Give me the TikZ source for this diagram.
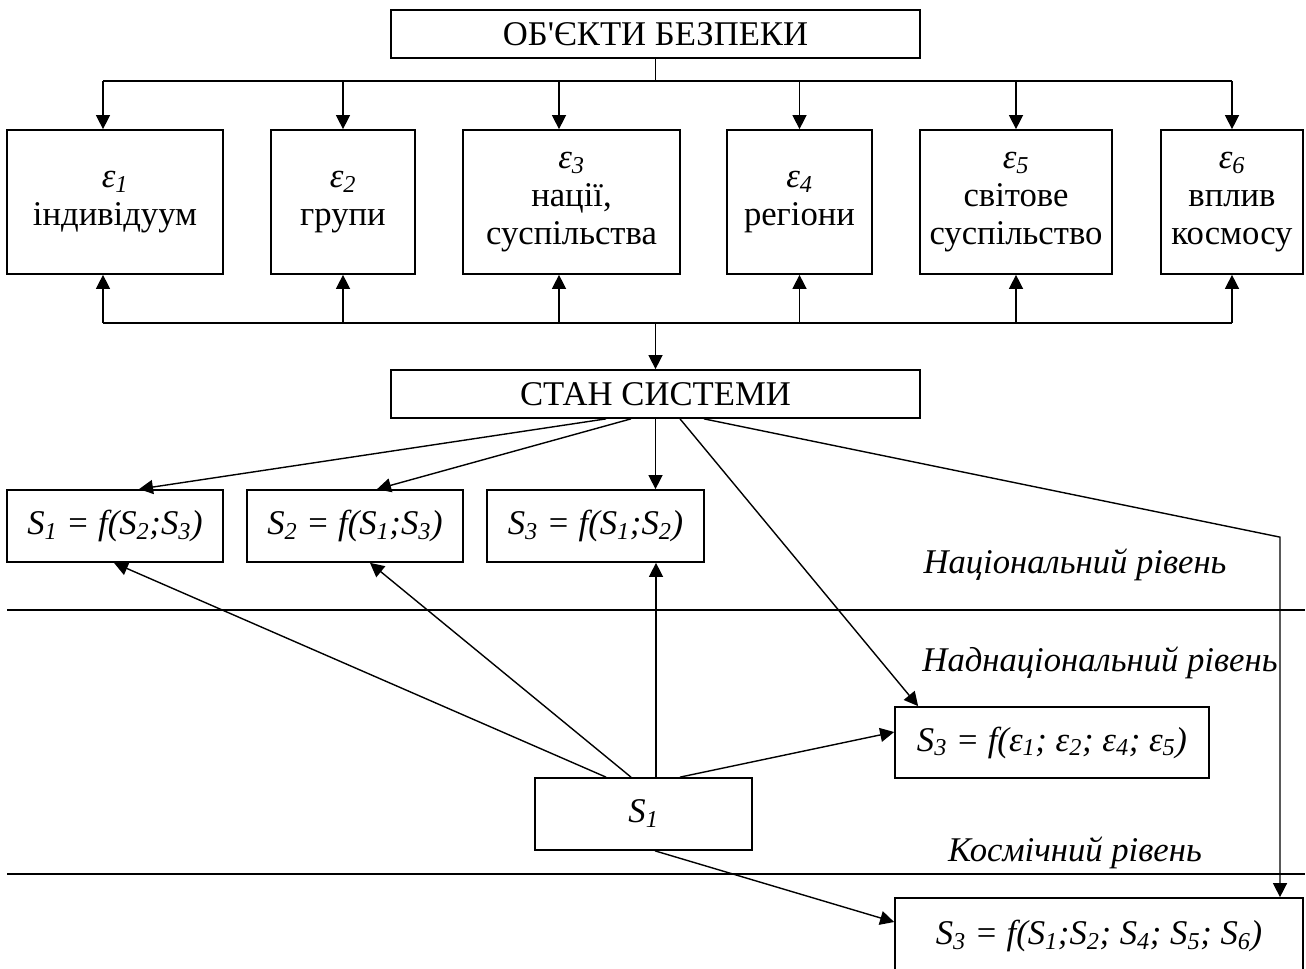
\documentclass[tikz,border=0pt]{standalone}
\usepackage{fontspec}
\setmainfont{Liberation Serif}
\newfontfamily\plainrm{Liberation Serif}
\usetikzlibrary{arrows.meta,calc}
\newcommand\fsz{\fontsize{26}{28.5}\selectfont}
\newcommand\eps[1]{\textit{ε}\textsubscript{\textit{#1}}}
\begin{document}
\begin{tikzpicture}[x=0.75pt,y=-0.75pt,
  bx/.style={draw, line width=1.3pt, inner sep=0pt, align=center, font=\fsz},
  arr/.style={-{Triangle[length=10.5pt,width=10.5pt]}, line width=1.05pt},
  ln/.style={line width=1.05pt},
  lbl/.style={font=\fsz\itshape, inner sep=0pt}]
\useasboundingbox (0,0) rectangle (1306,969);

% top boxes
\node[bx, minimum width=529*0.75pt, minimum height=48*0.75pt] (top) at (655.5,34) {ОБ{\plainrm '}ЄКТИ БЕЗПЕКИ};
\node[bx, minimum width=216*0.75pt, minimum height=144*0.75pt] (e1) at (115,202) {\eps{1}\\індивідуум};
\node[bx, minimum width=144*0.75pt, minimum height=144*0.75pt] (e2) at (343,202) {\eps{2}\\групи};
\node[bx, minimum width=217*0.75pt, minimum height=144*0.75pt] (e3) at (571.5,202) {\eps{3}\\нації,\\суспільства};
\node[bx, minimum width=145*0.75pt, minimum height=144*0.75pt] (e4) at (799.5,202) {\eps{4}\\регіони};
\node[bx, minimum width=192*0.75pt, minimum height=144*0.75pt] (e5) at (1016,202) {\eps{5}\\світове\\суспільство};
\node[bx, minimum width=142*0.75pt, minimum height=144*0.75pt] (e6) at (1232,202) {\eps{6}\\вплив\\космосу};
\node[bx, minimum width=529*0.75pt, minimum height=48*0.75pt] (stan) at (655.5,394) {СТАН СИСТЕМИ};

\node[bx, minimum width=216*0.75pt, minimum height=72*0.75pt] (sb1) at (115,526) {\itshape S\textsubscript{1} = f(S\textsubscript{2};S\textsubscript{3})};
\node[bx, minimum width=216*0.75pt, minimum height=72*0.75pt] (sb2) at (355,526) {\itshape S\textsubscript{2} = f(S\textsubscript{1};S\textsubscript{3})};
\node[bx, minimum width=217*0.75pt, minimum height=72*0.75pt] (sb3) at (595.5,526) {\itshape S\textsubscript{3} = f(S\textsubscript{1};S\textsubscript{2})};
\node[bx, minimum width=217*0.75pt, minimum height=72*0.75pt] (s1) at (643.5,814) {\itshape S\textsubscript{1}};
\node[bx, minimum width=314*0.75pt, minimum height=71*0.75pt] (ef) at (1052,742.5) {\itshape S\textsubscript{3} = f(ε\textsubscript{1}; ε\textsubscript{2}; ε\textsubscript{4}; ε\textsubscript{5})};
\node[bx, minimum width=408*0.75pt, minimum height=76*0.75pt] (bb) at (1099,936) {\itshape S\textsubscript{3} = f(S\textsubscript{1};S\textsubscript{2}; S\textsubscript{4}; S\textsubscript{5}; S\textsubscript{6})};

% level labels
\node[lbl] (l1) at (1075,565) {Національний рівень};
\node[lbl] (l2) at (1100,663) {Наднаціональний рівень};
\node[lbl] (l3) at (1075,853) {Космічний рівень};

% separators
\draw[ln] (7,610) -- (1305,610);
\draw[ln] (7,874) -- (1305,874);

% top bus
\coordinate (b1L) at ($(e1.north)+(-12,-48)$);
\coordinate (b1R) at ($(e6.north)+(0,-48)$);
\draw[ln] (top.south) -- (top.south |- b1L);
\draw[ln] (b1L) -- (b1R);
\draw[arr] (b1L) -- ($(e1.north)+(-12,0)$);
\draw[arr] (e2.north |- b1L) -- (e2.north);
\draw[arr] ($(e3.north)+(-12.5,-48)$) -- ($(e3.north)+(-12.5,0)$);
\draw[arr] (e4.north |- b1L) -- (e4.north);
\draw[arr] (e5.north |- b1L) -- (e5.north);
\draw[arr] (b1R) -- (e6.north);

% bottom bus
\coordinate (b2L) at ($(e1.south)+(-12,48)$);
\coordinate (b2R) at ($(e6.south)+(0,48)$);
\draw[ln] (b2L) -- (b2R);
\draw[arr] (b2L) -- ($(e1.south)+(-12,0)$);
\draw[arr] (e2.south |- b2L) -- (e2.south);
\draw[arr] ($(e3.south)+(-12.5,48)$) -- ($(e3.south)+(-12.5,0)$);
\draw[arr] (e4.south |- b2L) -- (e4.south);
\draw[arr] (e5.south |- b2L) -- (e5.south);
\draw[arr] (b2R) -- (e6.south);
\draw[arr] (stan.north |- b2L) -- (stan.north);

% from stan
\draw[arr] ($(stan.south)+(-49.5,0)$) -- ($(sb1.north)+(24,0)$);
\draw[arr] ($(stan.south)+(-24.5,0)$) -- ($(sb2.north)+(22,0)$);
\draw[arr] (stan.south) -- (stan.south |- sb3.north);
\draw[arr] ($(stan.south)+(24.5,0)$) -- ($(ef.north west)+(24,0)$);
\coordinate (bend) at ($(bb.north)+(181,-360)$);
\draw[arr] ($(stan.south)+(48.5,0)$) -- (bend) -- ($(bb.north)+(181,0)$);

% from s1
\draw[arr] ($(s1.north)+(-37.5,0)$) -- ($(sb1.south)+(-1,0)$);
\draw[arr] ($(s1.north)+(-12.5,0)$) -- ($(sb2.south)+(15,0)$);
\coordinate (v) at ($(s1.north)+(12.5,0)$);
\draw[arr] (v) -- (v |- sb3.south);
\draw[arr] ($(s1.north)+(36.5,0)$) -- ($(ef.west)+(0,-10.5)$);
\draw[arr] ($(s1.south)+(11.5,0)$) -- ($(bb.west)+(0,-14)$);
\end{tikzpicture}
\end{document}
